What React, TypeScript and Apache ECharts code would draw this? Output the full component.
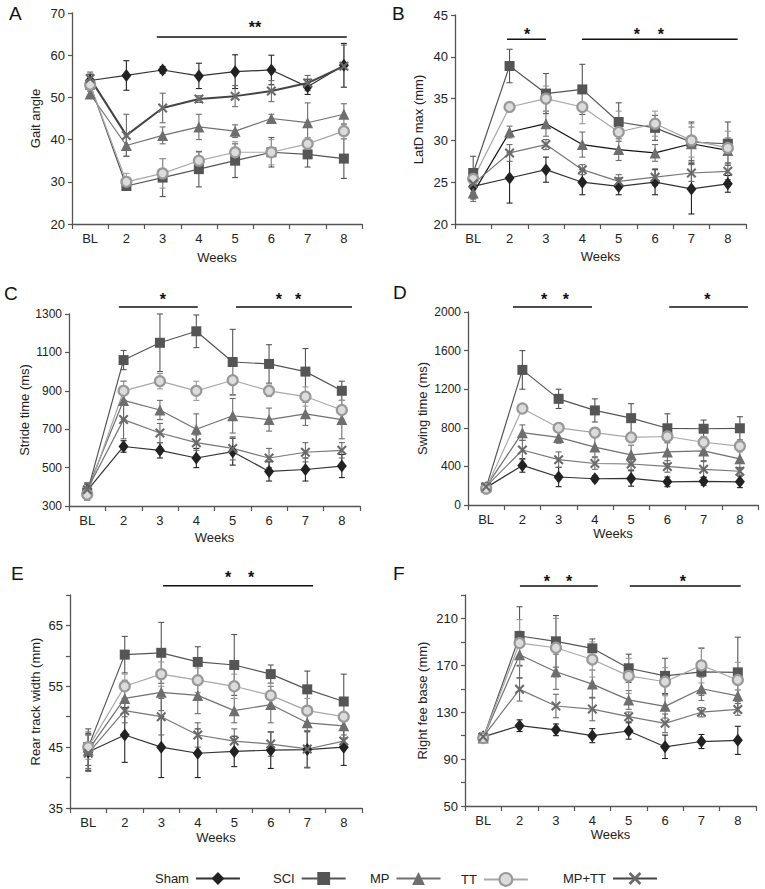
import React, { useEffect, useRef } from 'react';
import * as echarts from 'echarts';

const weeks = ['BL', '2', '3', '4', '5', '6', '7', '8'];
const groupNames = ['Sham', 'SCI', 'MP', 'TT', 'MP+TT'];

// Panel A: Gait angle (rows: Sham, SCI, MP, TT, MP+TT)
const gaitMean = [
  [54, 55.2, 56.5, 55.1, 56.1, 56.5, 52.5, 57.6],
  [53, 29, 31, 33, 35, 37, 36.5, 35.5],
  [50.8, 38.6, 41, 43, 42, 45, 44, 46],
  [53, 30, 32, 35, 37, 37, 39, 42],
  [54.5, 41, 47.5, 49.6, 50.3, 51.5, 53.4, 57.4],
];
const gaitErr = [
  [1.5, 3.5, 0.8, 3, 4, 3.5, 1.8, 5.2],
  [1.5, 1, 4.5, 4.2, 4, 3.5, 3, 4.7],
  [1, 2.5, 2, 3, 1.5, 1, 4.7, 2.5],
  [1.5, 2, 3.5, 2, 2.5, 3, 1.5, 1.8],
  [1.5, 5, 3.5, 0.8, 2.5, 2.5, 1.8, 5],
];
const gaitSigLines = [[1.84, 7.08, 64.3]];
const gaitSigStars = [[4.55, 67.2, 2]];

// Panel B: LatD max (mm)
const latMean = [
  [24.5, 25.5, 26.5, 25, 24.5, 25, 24.2, 24.8],
  [26.1, 38.9, 35.6, 36.1, 32.2, 31.5, 29.8, 29.6],
  [23.7, 31, 32, 29.5, 28.9, 28.5, 29.6, 28.8],
  [25.4, 34, 35, 34, 31, 32, 30, 29.1],
  [24.8, 28.5, 29.5, 26.5, 25.1, 25.6, 26.1, 26.3],
];
const latErr = [
  [1.5, 3, 1.5, 1.5, 1, 1.5, 3, 1],
  [2, 2, 2.4, 3, 2.3, 1.5, 2.4, 2.6],
  [1, 0.7, 1.5, 1.5, 1.3, 1, 2, 1.5],
  [1, 0.5, 1.5, 2, 2.5, 1.5, 2, 2],
  [1, 1, 0.6, 0.6, 0.8, 1, 1, 1],
];
const latSigLines = [[0.93, 2.0, 42.1], [2.99, 7.27, 42.1]];
const latSigStars = [[1.48, 43.0, 1], [4.5, 43.0, 1], [5.16, 43.0, 1]];

// Panel C: Stride time (ms)
const strideMean = [
  [380, 610, 590, 550, 583, 480, 490, 508],
  [370, 1060, 1150, 1210, 1050, 1040, 1000, 900],
  [385, 850, 800, 700, 770, 750, 780, 750],
  [360, 900, 950, 900, 955, 900, 870, 800],
  [385, 750, 680, 630, 600, 550, 580, 590],
];
const strideErr = [
  [40, 30, 40, 50, 70, 50, 60, 60],
  [40, 50, 150, 85, 170, 100, 120, 50],
  [30, 100, 50, 80, 90, 60, 60, 100],
  [30, 50, 40, 50, 80, 30, 50, 50],
  [30, 100, 50, 40, 60, 50, 50, 40],
];
const strideSigLines = [[0.87, 3.04, 1336], [4.09, 7.28, 1336]];
const strideSigStars = [[2.08, 1390, 1], [5.27, 1390, 1], [5.8, 1390, 1]];

// Panel D: Swing time (ms)
const swingMean = [
  [180, 410, 290, 272, 275, 240, 245, 240],
  [180, 1400, 1100, 980, 900, 795, 790, 795],
  [190, 750, 700, 600, 520, 550, 560, 478],
  [170, 1000, 800, 750, 700, 710, 650, 610],
  [190, 570, 470, 430, 425, 400, 370, 350],
];
const swingErr = [
  [30, 70, 100, 30, 80, 50, 40, 60],
  [30, 200, 100, 120, 150, 150, 90, 120],
  [30, 80, 60, 100, 100, 120, 100, 100],
  [20, 40, 30, 50, 40, 30, 60, 60],
  [30, 100, 80, 60, 60, 60, 80, 40],
];
const swingSigLines = [[0.74, 2.92, 2052], [5.05, 7.22, 2052]];
const swingSigStars = [[1.6, 2159, 1], [2.2, 2159, 1], [6.1, 2159, 1]];

// Panel E: Rear track width (mm)
const rearMean = [
  [44.2, 47, 45, 44, 44.3, 44.5, 44.6, 45],
  [45, 60.2, 60.5, 59, 58.5, 57, 54.5, 52.5],
  [44.5, 53, 54, 53.5, 51, 52, 49, 48.5],
  [45, 55, 57, 56, 55, 53.5, 51, 50],
  [44, 51, 50, 47, 46, 45.5, 44.7, 46],
];
const rearErr = [
  [3, 4.5, 5, 4, 2.5, 3, 3, 3],
  [3, 3, 5, 2.5, 5, 1.5, 3, 4.5],
  [3, 3, 3, 3, 2, 3, 1.5, 2],
  [2, 2, 2, 2, 2, 2, 2, 2],
  [3, 2, 3, 2, 2, 2, 3, 1],
];
const rearSigLines = [[2.05, 6.16, 71.5]];
const rearSigStars = [[3.83, 73.3, 1], [4.46, 73.3, 1]];

// Panel F: Right fee base (mm)
const feeMean = [
  [109, 118.5, 115, 110, 114, 100.5, 105, 106],
  [108, 195, 190.5, 184.5, 167.5, 161, 164.5, 164],
  [108, 179, 164.5, 154, 140.5, 135, 150, 144],
  [108, 189, 185, 175, 161, 156, 170, 157.5],
  [109, 149.5, 135.3, 132.7, 126.2, 120.5, 130, 132.4],
];
const feeErr = [
  [3, 5, 5, 6, 7, 10, 6, 12],
  [3, 25, 22, 8, 12, 15, 20, 30],
  [3, 20, 15, 12, 8, 10, 10, 5],
  [3, 20, 25, 15, 15, 12, 15, 15],
  [3, 10, 10, 10, 4, 8, 4, 5],
];
const feeSigLines = [[1.01, 3.15, 237.7], [4.03, 7.08, 237.7]];
const feeSigStars = [[1.75, 244.5, 1], [2.36, 244.5, 1], [5.49, 244.5, 1]];

const X_PATH = 'path://M0,1.5 L1.5,0 L5,3.5 L8.5,0 L10,1.5 L6.5,5 L10,8.5 L8.5,10 L5,6.5 L1.5,10 L0,8.5 L3.5,5 Z';

const groupStyles = [
  { symbol: 'diamond', size: [10, 13], color: '#222', border: '#222', bw: 0, line: '#333' },
  { symbol: 'rect', size: 10, color: '#555', border: '#555', bw: 0, line: '#555' },
  { symbol: 'triangle', size: 11, color: '#6e6e6e', border: '#6e6e6e', bw: 0, line: '#707070' },
  { symbol: 'circle', size: 10, color: '#dcdcdc', border: '#999', bw: 2.2, line: '#a8a8a8' },
  { symbol: X_PATH, size: 10, color: '#6a6a6a', border: '#6a6a6a', bw: 0, line: '#777' },
];

// legend item left edges (layout)
const legendLefts = [150, 268, 365, 456, 558];

const FONT = '"Liberation Sans", Arial, Helvetica, sans-serif';

const panels = [
  { letter: 'A', lx: 9, ly: 4, mean: gaitMean, err: gaitErr, rect: [72, 13, 290, 211], min: 20, max: 70, interval: 10, labelStep: 10, name: 'Gait angle', yGap: 30, xGap: 27, yFont: 13, sigLines: gaitSigLines, sigStars: gaitSigStars, lineOverride: { 4: '#444' } },
  { letter: 'B', lx: 392, ly: 4, mean: latMean, err: latErr, rect: [455, 15, 291, 209], min: 20, max: 45, interval: 5, labelStep: 5, name: 'LatD max (mm)', yGap: 30, xGap: 26, yFont: 13, sigLines: latSigLines, sigStars: latSigStars, lineOverride: { 2: '#111' } },
  { letter: 'C', lx: 4, ly: 284, mean: strideMean, err: strideErr, rect: [69, 314, 291, 192], min: 300, max: 1300, interval: 200, labelStep: 200, name: 'Stride time (ms)', yGap: 35, xGap: 25, yFont: 12, sigLines: strideSigLines, sigStars: strideSigStars, lineOverride: {} },
  { letter: 'D', lx: 393, ly: 283, mean: swingMean, err: swingErr, rect: [468, 312, 290, 193], min: 0, max: 2000, interval: 400, labelStep: 400, name: 'Swing time (ms)', yGap: 39, xGap: 21, yFont: 12, sigLines: swingSigLines, sigStars: swingSigStars, lineOverride: {} },
  { letter: 'E', lx: 11, ly: 564, mean: rearMean, err: rearErr, rect: [70, 595, 292, 213], min: 35, max: 70, interval: 5, labelStep: 10, name: 'Rear track width (mm)', yGap: 28, xGap: 23, yFont: 13, sigLines: rearSigLines, sigStars: rearSigStars, lineOverride: {} },
  { letter: 'F', lx: 393, ly: 564, mean: feeMean, err: feeErr, rect: [465, 595, 291, 211], min: 50, max: 230, interval: 20, labelStep: 40, name: 'Right fee base (mm)', yGap: 36, xGap: 22, yFont: 13, sigLines: feeSigLines, sigStars: feeSigStars, lineOverride: {} },
];

function buildOption() {
  const grid: any[] = [];
  const xAxis: any[] = [];
  const yAxis: any[] = [];
  const series: any[] = [];
  const graphic: any[] = [];

  panels.forEach((p, pi) => {
    grid.push({ left: p.rect[0], top: p.rect[1], width: p.rect[2], height: p.rect[3], outerBoundsMode: 'none', containLabel: false });
    xAxis.push({
      type: 'category', gridIndex: pi, data: weeks, boundaryGap: true,
      name: 'Weeks', nameLocation: 'middle', nameGap: p.xGap,
      nameTextStyle: { fontSize: 13, color: '#222', fontFamily: FONT },
      axisLine: { show: true, lineStyle: { color: '#555', width: 1.3 } },
      axisTick: { show: true, length: 5, lineStyle: { color: '#555', width: 1.2 } },
      axisLabel: { fontSize: 13, color: '#222', margin: 8, fontFamily: FONT, interval: 0 },
      splitLine: { show: false },
    });
    const step = p.labelStep;
    const mn = p.min;
    yAxis.push({
      type: 'value', gridIndex: pi, min: p.min, max: p.max, interval: p.interval,
      name: p.name, nameLocation: 'middle', nameGap: p.yGap,
      nameTextStyle: { fontSize: 13, color: '#222', fontFamily: FONT },
      axisLine: { show: true, lineStyle: { color: '#555', width: 1.3 } },
      axisTick: { show: true, length: 4, lineStyle: { color: '#555', width: 1.2 } },
      axisLabel: {
        fontSize: p.yFont, color: '#222', margin: 7, fontFamily: FONT,
        formatter: (v: number) => (Math.abs((v - mn) % step) < 1e-6 ? String(v) : ''),
      },
      splitLine: { show: false },
    });

    groupNames.forEach((g, gi) => {
      const st = groupStyles[gi];
      const lineColor = (p.lineOverride as any)[gi] || st.line;
      const means = p.mean[gi];
      const errs = p.err[gi];
      const barColor = gi === 3 ? st.border : st.color;
      series.push({
        type: 'custom', name: g + ' err', xAxisIndex: pi, yAxisIndex: pi, silent: true, z: 2,
        itemStyle: { color: barColor },
        data: means.map((m, i) => [i, m - errs[i], m + errs[i]]),
        encode: { x: 0, y: [1, 2] },
        renderItem: (params: any, api: any) => {
          const x = api.value(0);
          const lo = api.coord([x, api.value(1)]);
          const hi = api.coord([x, api.value(2)]);
          const w = 3;
          const s = { stroke: barColor, lineWidth: 1.1 };
          return {
            type: 'group',
            children: [
              { type: 'line', shape: { x1: lo[0], y1: lo[1], x2: hi[0], y2: hi[1] }, style: s },
              { type: 'line', shape: { x1: lo[0] - w, y1: lo[1], x2: lo[0] + w, y2: lo[1] }, style: s },
              { type: 'line', shape: { x1: hi[0] - w, y1: hi[1], x2: hi[0] + w, y2: hi[1] }, style: s },
            ],
          };
        },
      });
      series.push({
        type: 'line', name: g, xAxisIndex: pi, yAxisIndex: pi, z: 3,
        data: means,
        symbol: st.symbol, symbolSize: st.size, showAllSymbol: true,
        itemStyle: { color: st.color, borderColor: st.border, borderWidth: st.bw },
        lineStyle: { color: lineColor, width: gi === 4 && pi === 0 ? 2 : 1.2 },
        emphasis: { disabled: true },
      });
    });

    series.push({
      type: 'custom', name: 'sig lines ' + p.letter, xAxisIndex: pi, yAxisIndex: pi, silent: true, z: 5, clip: false,
      itemStyle: { color: '#111' },
      data: p.sigLines.map((l) => [0, l[2], l[0], l[1]]),
      encode: { x: 0, y: 1 },
      renderItem: (params: any, api: any) => {
        const y = api.value(1);
        const b0 = api.coord([0, y]);
        const b1 = api.coord([1, y]);
        const bw = b1[0] - b0[0];
        return {
          type: 'line',
          shape: { x1: b0[0] + api.value(2) * bw, y1: b0[1], x2: b0[0] + api.value(3) * bw, y2: b0[1] },
          style: { stroke: '#111', lineWidth: 1.5 },
        };
      },
    });
    series.push({
      type: 'custom', name: 'sig stars ' + p.letter, xAxisIndex: pi, yAxisIndex: pi, silent: true, z: 5, clip: false,
      itemStyle: { color: '#111' },
      data: p.sigStars.map((s) => [0, s[1], s[0], s[2]]),
      encode: { x: 0, y: 1 },
      renderItem: (params: any, api: any) => {
        const y = api.value(1);
        const b0 = api.coord([0, y]);
        const b1 = api.coord([1, y]);
        const bw = b1[0] - b0[0];
        return {
          type: 'text',
          x: b0[0] + api.value(2) * bw,
          y: b0[1] + 3,
          style: { text: '*'.repeat(api.value(3)), fontSize: 16, fontWeight: 'bold', fill: '#111', align: 'center', verticalAlign: 'middle', fontFamily: FONT },
        };
      },
    });

    graphic.push({
      type: 'text', x: p.lx, y: p.ly,
      style: { text: p.letter, fontSize: 19, fill: '#111', fontFamily: FONT },
    });
  });

  const legend = groupNames.map((g, gi) => ({
    data: [g],
    left: legendLefts[gi], top: 867,
    align: 'right',
    itemWidth: 44, itemHeight: 16, itemGap: 0,
    selectedMode: false,
    textStyle: { fontSize: 13, color: '#222', fontFamily: FONT, padding: [0, 2, 0, 0] },
  }));

  return {
    animation: false,
    backgroundColor: '#fff',
    textStyle: { fontFamily: FONT },
    grid, xAxis, yAxis, series, graphic, legend,
  };
}

export default function App() {
  const ref = useRef<HTMLDivElement>(null);
  useEffect(() => {
    if (!ref.current) return;
    const chart = echarts.init(ref.current, undefined, { renderer: 'svg' });
    chart.setOption(buildOption() as any);
    return () => chart.dispose();
  }, []);
  return (
    <div
      ref={ref}
      style={{ position: 'absolute', left: 0, top: 0, width: 765, height: 889, background: '#fff' }}
    />
  );
}
